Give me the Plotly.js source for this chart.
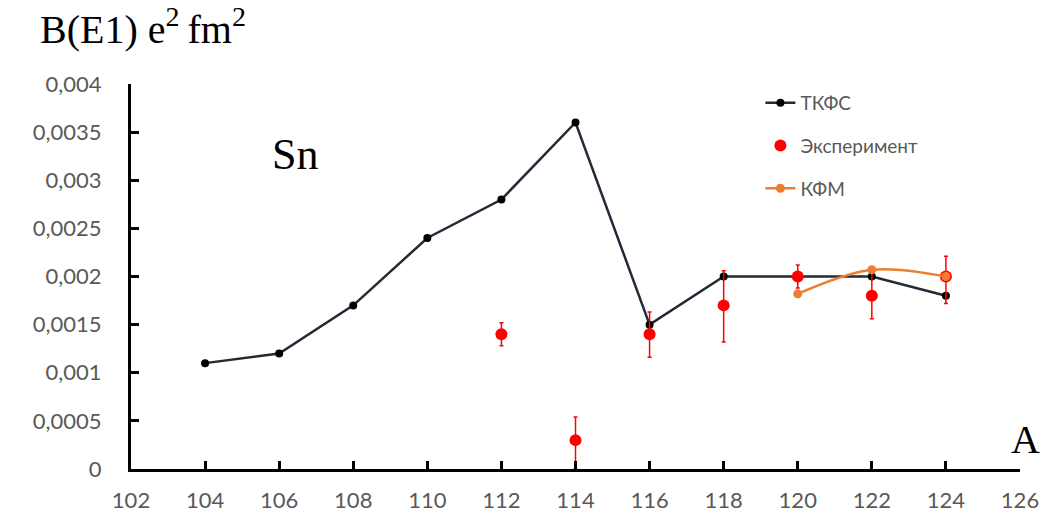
<!DOCTYPE html>
<html><head><meta charset="utf-8">
<script src="https://cdn.plot.ly/plotly-3.0.1.min.js"></script>
<style>body{margin:0;background:#fff}#c{width:1052px;height:523px}</style>
</head><body><div id="c"></div>
<script>
const tkfsA = [104,106,108,110,112,114,116,118,120,122,124];
const tkfsB = [0.0011,0.0012,0.0017,0.0024,0.0028,0.0036,0.0015,0.0020,0.0020,0.0020,0.0018];
const expA = [112,114,116,118,120,122,124];
const expB = [0.0014,0.0003,0.0014,0.0017,0.0020,0.0018,0.0020];
const expErrPlus = [0.00012,0.00024,0.00023,0.00036,0.00012,0.00028,0.00021];
const expErrMinus = [0.00012,0.0003,0.00024,0.00038,0.00012,0.00024,0.00028];
const kfmA = [120,122,124];
const kfmB = [0.00182,0.00207,0.0020];
const yTickVals = [0,0.0005,0.001,0.0015,0.002,0.0025,0.003,0.0035,0.004];
const yTickText = ['0','0,0005','0,001','0,0015','0,002','0,0025','0,003','0,0035','0,004'];
const xTickVals = [102,104,106,108,110,112,114,116,118,120,122,124,126];

const traces = [
  {x: tkfsA, y: tkfsB, name: 'ТКФС', mode: 'lines+markers', legendgroup:'a',
   line: {color: '#222a35', width: 2.5}, marker: {color: '#000', size: 8}},
  {x: expA, y: expB, name: 'Эксперимент', mode: 'markers', legendgroup:'b',
   marker: {color: '#ff0000', size: 12},
   error_y: {type: 'data', symmetric: false, array: expErrPlus, arrayminus: expErrMinus,
             color: '#ff0000', thickness: 1.5, width: 2}},
  {x: kfmA, y: kfmB, name: 'КФМ', mode: 'lines+markers', legendgroup:'c',
   line: {color: '#ed7d31', width: 2.5, shape: 'spline'}, marker: {color: '#ed7d31', size: 9}}
];
const layout = {
  width: 1052, height: 523,
  margin: {l: 131, r: 32, t: 84, b: 54},
  paper_bgcolor: '#fff', plot_bgcolor: '#fff',
  showlegend: true,
  legend: {x: 0.708, y: 1.0, xanchor: 'left', yanchor: 'top', traceorder: 'grouped',
           tracegroupgap: 15, font: {family: 'Lato, sans-serif', size: 19, color: '#595959'},
           bgcolor: 'rgba(0,0,0,0)'},
  xaxis: {range: [102, 126], tickvals: xTickVals, ticks: 'inside', ticklen: 8, tickwidth: 3,
          tickcolor: '#000', showline: true, linecolor: '#000', linewidth: 3, showgrid: false,
          zeroline: false, ticklabelstandoff: 10,
          tickfont: {family: 'Lato, sans-serif', size: 22, color: '#595959'}},
  yaxis: {range: [0, 0.004], tickvals: yTickVals, ticktext: yTickText, ticks: 'inside',
          ticklen: 8, tickwidth: 3, tickcolor: '#000', showline: true, linecolor: '#000',
          linewidth: 3, showgrid: false, zeroline: false, ticklabelstandoff: 22,
          tickfont: {family: 'Lato, sans-serif', size: 22, color: '#595959'}},
  annotations: [
    {text: 'B(E1) e<sup>2</sup>\u2009fm<sup>2</sup>',
     xref: 'paper', yref: 'paper', x: -0.105, y: 1.15,
     xanchor: 'left', yanchor: 'middle', showarrow: false,
     font: {family: 'Liberation Serif, serif', size: 40, color: '#000'}},
    {text: 'Sn', xref: 'x', yref: 'y', x: 105.75, y: 0.00327, xanchor: 'left', yanchor: 'middle',
     showarrow: false, font: {family: 'Liberation Serif, serif', size: 44, color: '#000'}},
    {text: 'A', xref: 'x', yref: 'y', x: 125.7, y: 0.00031, xanchor: 'left', yanchor: 'middle',
     showarrow: false, font: {family: 'Liberation Serif, serif', size: 40, color: '#000'}}
  ]
};
Plotly.newPlot('c', traces, layout, {displayModeBar: false, staticPlot: true});
</script></body></html>
